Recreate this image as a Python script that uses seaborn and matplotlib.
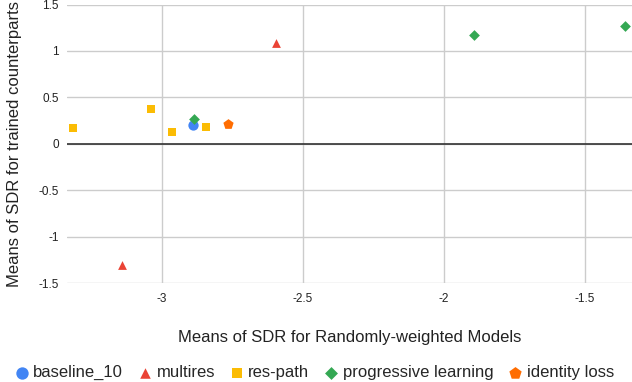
import numpy as np
import pandas as pd
import seaborn as sns
import matplotlib.pyplot as plt

# data
models = ['baseline_10',
          'multires', 'multires',
          'res-path', 'res-path', 'res-path', 'res-path',
          'progressive learning', 'progressive learning', 'progressive learning',
          'identity loss']
sdr_random = [-2.891,
              -2.597, -3.141,
              -3.316, -3.040, -2.965, -2.844,
              -2.887, -1.894, -1.359,
              -2.767]
sdr_trained = [0.198,
               1.09, -1.31,
               0.166, 0.374, 0.126, 0.183,
               0.266, 1.171, 1.265,
               0.209]
order = ['baseline_10', 'multires', 'res-path', 'progressive learning', 'identity loss']

df = pd.DataFrame({'model': models, 'x': sdr_random, 'y': sdr_trained})

sns.set_style('white')
plt.rcParams['font.family'] = ['Liberation Sans', 'DejaVu Sans']

palette = {'baseline_10': '#4285F4', 'multires': '#EA4335', 'res-path': '#FBBC04',
           'progressive learning': '#34A853', 'identity loss': '#FF6D01'}
markers = {'baseline_10': 'o', 'multires': '^', 'res-path': 's',
           'progressive learning': 'D', 'identity loss': 'p'}
sizes = {'baseline_10': 55, 'multires': 40, 'res-path': 38,
         'progressive learning': 30, 'identity loss': 60}

fig = plt.figure(figsize=(6.32, 3.82), dpi=100)
ax = fig.add_axes([0.106, 0.259, 0.894, 0.729])

for m in order:
    sub = df[df['model'] == m]
    sns.scatterplot(ax=ax, data=sub, x='x', y='y', color=palette[m],
                    marker=markers[m], s=sizes[m], linewidth=0, label=m, zorder=3)

ax.set_xlim(-3.337, -1.334)
ax.set_ylim(-1.5, 1.5)
ax.set_xticks([-3, -2.5, -2, -1.5])
ax.set_xticklabels(['-3', '-2.5', '-2', '-1.5'])
ax.set_yticks([-1.5, -1, -0.5, 0, 0.5, 1, 1.5])
ax.set_yticklabels(['-1.5', '-1', '-0.5', '0', '0.5', '1', '1.5'])
ax.grid(True, color='#cccccc', linewidth=1)
ax.axhline(0, color='#333333', linewidth=1.2, zorder=2)
for s in ax.spines.values():
    s.set_visible(False)
ax.tick_params(axis='both', length=0, labelsize=8.5, colors='#222222')
ax.tick_params(axis='x', pad=7)
ax.tick_params(axis='y', pad=6)

ax.set_xlabel('Means of SDR for Randomly-weighted Models', fontsize=12, color='#222222', labelpad=18)
ax.set_ylabel('Means of SDR for trained counterparts', fontsize=12, color='#222222', labelpad=12)

handles, labels = ax.get_legend_handles_labels()
ax.get_legend().remove()
fig.legend(handles, labels, loc='lower center', bbox_to_anchor=(0.497, -0.035), ncol=5,
           frameon=False, fontsize=12, handletextpad=0.25, columnspacing=0.85,
           handlelength=0.9, markerscale=1.2)

fig.savefig('out.png', dpi=100)
